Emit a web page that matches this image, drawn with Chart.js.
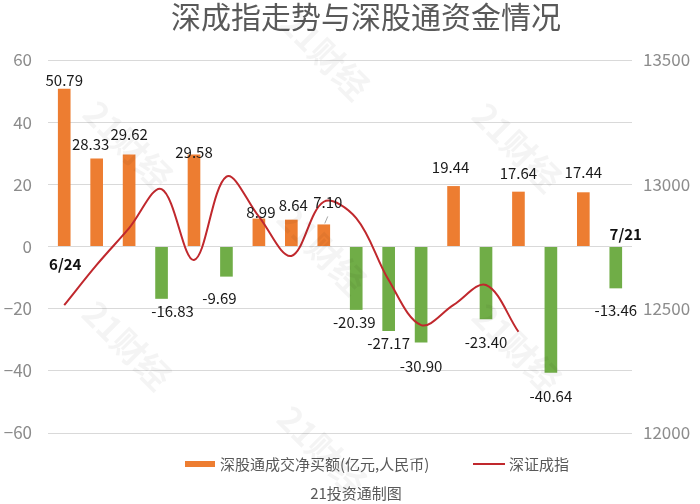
<!DOCTYPE html>
<html>
<head>
<meta charset="utf-8">
<script src="https://cdn.jsdelivr.net/npm/chart.js@4.4.0/dist/chart.umd.min.js"></script>
<style>
  html, body { margin: 0; padding: 0; background: #fff; }
  #wrap { width: 700px; height: 504px; }
</style>
</head>
<body>
<div id="wrap"><canvas id="szChart"></canvas></div>
<script>
// data
const dates = ['6/24', '6/27', '6/28', '6/29', '6/30', '7/4', '7/5', '7/6', '7/7', '7/8',
               '7/11', '7/12', '7/13', '7/14', '7/18', '7/19', '7/20', '7/21'];
const netBuy = [50.79, 28.33, 29.62, -16.83, 29.58, -9.69, 8.99, 8.64, 7.10, -20.39,
                -27.17, -30.90, 19.44, -23.40, 17.64, -40.64, 17.44, -13.46];
const szIndex = [12514, 12676, 12824, 12981, 12696, 13031, 12870, 12712, 12930, 12864,
                 12615, 12434, 12515, 12595, 12407, null, null, null];
const leftTicks = [-60, -40, -20, 0, 20, 40, 60];
const rightTicks = [12000, 12500, 13000, 13500];

const titleText = '深成指走势与深股通资金情况';
const barName = '深股通成交净买额(亿元,人民币)';
const lineName = '深证成指';
const sourceText = '21投资通制图';

const ORANGE = '#ED7D31';
const GREEN = '#70AD47';
const RED = '#C0282D';
const FONT = '"Noto Sans CJK SC", "Noto Sans", sans-serif';

// hand nudges for labels that were moved in the original [dx, dy]
const labelNudge = {
    1: [-6, -5], 2: [0, -11], 3: [11, 0], 4: [0, 6], 5: [-7, 9], 6: [2, 2], 7: [2, -6],
    8: [4, -13], 9: [-2, 0], 11: [0, 11], 12: [-3, -10], 13: [0, 11], 14: [0, -10],
    15: [0, 11], 16: [0, -11], 17: [0, 10]
};

const decorPlugin = {
    id: 'decor',
    afterDatasetsDraw(chart) {
        const ctx = chart.ctx;
        const meta = chart.getDatasetMeta(0);
        const x = chart.scales.x, y = chart.scales.y;
        ctx.save();
        ctx.font = '15px ' + FONT;
        ctx.fillStyle = '#1a1a1a';
        ctx.textAlign = 'center';
        ctx.textBaseline = 'alphabetic';
        meta.data.forEach((bar, i) => {
            const v = netBuy[i];
            const n = labelNudge[i] || [0, 0];
            const top = Math.min(bar.y, bar.base), bottom = Math.max(bar.y, bar.base);
            const ty = v >= 0 ? top - 3 : bottom + 18;
            ctx.fillText(v.toFixed(2), bar.x + n[0], ty + n[1]);
            if (i === 8) {
                ctx.strokeStyle = '#a6a6a6';
                ctx.lineWidth = 1;
                ctx.beginPath();
                ctx.moveTo(bar.x + 1, top - 1);
                ctx.lineTo(bar.x + 4, top - 8);
                ctx.stroke();
            }
        });
        // first / last date on the zero line
        ctx.font = 'bold 15px ' + FONT;
        ctx.fillStyle = '#111';
        const zero = y.getPixelForValue(0);
        ctx.fillText(dates[0], x.getPixelForValue(0) + 1, zero + 23);
        ctx.fillText(dates[dates.length - 1], x.getPixelForValue(dates.length - 1) + 10, zero - 7);
        ctx.restore();
    },
    afterDraw(chart) {
        const ctx = chart.ctx;
        ctx.save();
        // title
        ctx.font = '30px ' + FONT;
        ctx.fillStyle = '#595959';
        ctx.textAlign = 'center';
        ctx.textBaseline = 'middle';
        ctx.fillText(titleText, 366, 17);
        // legend
        ctx.font = '15px ' + FONT;
        ctx.textAlign = 'left';
        ctx.fillStyle = ORANGE;
        ctx.fillRect(185, 461, 30, 6);
        ctx.fillStyle = '#595959';
        ctx.fillText(barName, 220, 464);
        ctx.strokeStyle = RED;
        ctx.lineWidth = 2;
        ctx.beginPath();
        ctx.moveTo(473, 464);
        ctx.lineTo(505, 464);
        ctx.stroke();
        ctx.fillText(lineName, 509, 464);
        // source
        ctx.textAlign = 'center';
        ctx.fillText(sourceText, 356, 493);
        // watermark
        ctx.font = 'bold 34px ' + FONT;
        ctx.fillStyle = 'rgba(0,0,0,0.045)';
        [[128, 145], [325, 55], [517, 147], [127, 345], [322, 250], [517, 348], [322, 450]].forEach(p => {
            ctx.save();
            ctx.translate(p[0], p[1]);
            ctx.rotate(Math.PI / 4);
            ctx.fillText('21财经', 0, 0);
            ctx.restore();
        });
        ctx.restore();
    }
};

const ctx = document.getElementById('szChart').getContext('2d');
new Chart(ctx, {
    data: {
        labels: dates,
        datasets: [{
            type: 'bar',
            label: barName,
            data: netBuy,
            backgroundColor: netBuy.map(v => v >= 0 ? ORANGE : GREEN),
            barPercentage: 0.39,
            categoryPercentage: 1,
            yAxisID: 'y',
            order: 2
        }, {
            type: 'line',
            label: lineName,
            data: szIndex,
            borderColor: RED,
            borderWidth: 2,
            pointRadius: 0,
            tension: 0.35,
            fill: false,
            yAxisID: 'y1',
            order: 1
        }]
    },
    options: {
        responsive: true,
        maintainAspectRatio: false,
        animation: false,
        layout: { padding: { top: 60, bottom: 71, left: 0, right: 10 } },
        plugins: {
            legend: { display: false },
            tooltip: { enabled: false }
        },
        scales: {
            x: { display: false, offset: true },
            y: {
                position: 'left',
                min: -60, max: 60,
                afterBuildTicks: function (scale) { scale.ticks = leftTicks.map(v => ({ value: v })); },
                afterFit: function (scale) { scale.width = 48; },
                grid: { color: '#d9d9d9', drawTicks: false },
                border: { display: false },
                ticks: {
                    padding: 16,
                    color: '#8c8c8c',
                    font: { size: 17, family: FONT },
                    callback: function (value) { return String(value).replace('-', '\u2212'); }
                }
            },
            y1: {
                position: 'right',
                min: 12000, max: 13500,
                afterBuildTicks: function (scale) { scale.ticks = rightTicks.map(v => ({ value: v })); },
                afterFit: function (scale) { scale.width = 58; },
                grid: { drawOnChartArea: false, drawTicks: false },
                border: { display: false },
                ticks: {
                    padding: 11,
                    color: '#8c8c8c',
                    font: { size: 17, family: FONT },
                    callback: function (value) { return String(value); }
                }
            }
        }
    },
    plugins: [decorPlugin]
});
</script>
</body>
</html>
